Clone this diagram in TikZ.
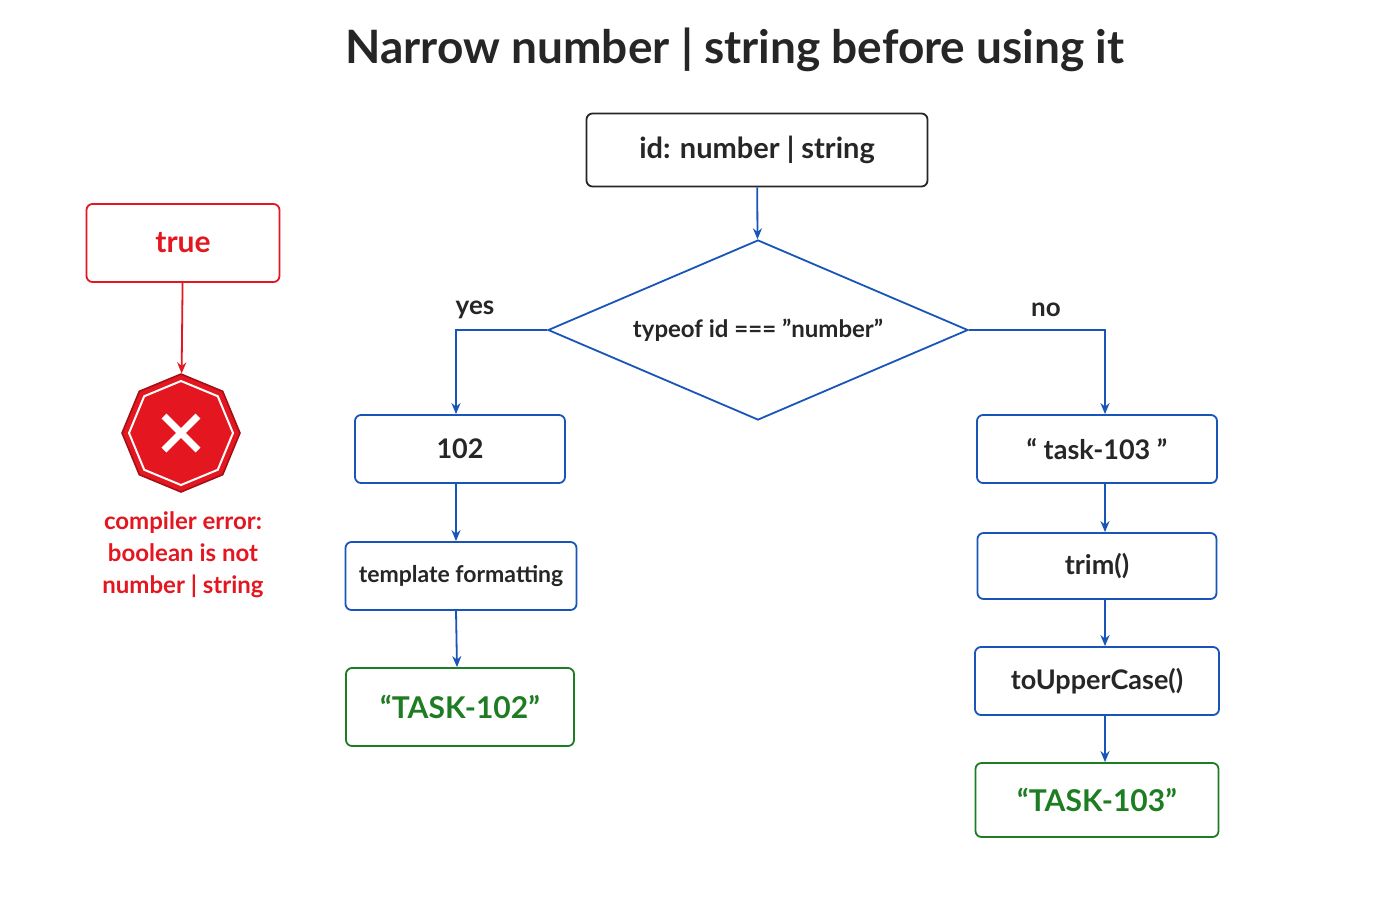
\documentclass[tikz,border=0pt]{standalone}
\usepackage{fontspec}
\setmainfont{Lato}
\usetikzlibrary{shapes.geometric,arrows.meta,positioning}
\definecolor{flowblue}{RGB}{25,85,185}
\definecolor{okgreen}{RGB}{30,125,35}
\definecolor{errred}{RGB}{228,22,32}
\tikzset{
  stage/.style={draw=flowblue,line width=1.8pt,rounded corners=6pt,align=center,
    font=\fontsize{27}{31}\selectfont\bfseries,text=black!85},
  result/.style={stage,draw=okgreen,text=okgreen,font=\fontsize{30}{34}\selectfont\bfseries},
  flow/.style={draw=flowblue,line width=1.8pt,-{Stealth[length=11pt,width=9pt]}},
}
\begin{document}
\begin{tikzpicture}[x=1pt,y=-1pt]
\path[fill=white] (0,0) rectangle (1400,900);

%title
\node[text=black!85] (title) at (735,50) {\fontsize{46}{52}\selectfont\bfseries Narrow number | string before using it};

%top of the flow
\node[stage,draw=black!85,minimum width=341pt,minimum height=73pt,font=\fontsize{29}{33}\selectfont\bfseries] (idtype) at (757,150) {id: number | string};
\node[diamond,draw=flowblue,line width=1.8pt,aspect=2.33,minimum width=420pt,minimum height=180pt,inner sep=0pt,
  text=black!85,font=\fontsize{24}{28}\selectfont\bfseries] (check) at (758,330) {typeof id === \symbol{34}number\symbol{34}};
\draw[flow] (idtype) -- (check);
\node[text=black!85,font=\fontsize{26}{30}\selectfont\bfseries] (yes) at (475,310) {yes};
\node[text=black!85,font=\fontsize{26}{30}\selectfont\bfseries] (no) at (1046,310) {no};

%number branch
\node[stage,minimum width=210pt,minimum height=68pt] (num) at (460,449) {102};
\node[stage,minimum width=231pt,minimum height=68pt,inner xsep=2pt,font=\fontsize{23}{27}\selectfont\bfseries] (tmpl) at (461,576) {template formatting};
\node[result,minimum width=228pt,minimum height=78pt] (outnum) at (460,707) {“TASK-102”};
\draw[flow] (check.west) -| ([xshift=-4pt]num.north);
\draw[flow] ([xshift=-4pt]num.south) -- ([xshift=-5pt]tmpl.north);
\draw[flow] ([xshift=-5pt]tmpl.south) -- ([xshift=-3pt]outnum.north);

%string branch
\node[stage,minimum width=240pt,minimum height=68pt] (str) at (1097,449) {“ task-103 ”};
\node[stage,minimum width=239pt,minimum height=66pt] (trim) at (1097,566) {trim()};
\node[stage,minimum width=244pt,minimum height=68pt] (upper) at (1097,681) {toUpperCase()};
\node[result,minimum width=243pt,minimum height=74pt] (outstr) at (1097,800) {“TASK-103”};
\draw[flow] (check.east) -| ([xshift=8pt]str.north);
\draw[flow] ([xshift=8pt]str.south) -- ([xshift=8pt]trim.north);
\draw[flow] ([xshift=8pt]trim.south) -- ([xshift=8pt]upper.north);
\draw[flow] ([xshift=8pt]upper.south) -- ([xshift=8pt]outstr.north);

%rejected value
\node[stage,draw=errred,text=errred,minimum width=193pt,minimum height=78pt,font=\fontsize{30}{34}\selectfont\bfseries] (bool) at (183,243) {true};
\node[regular polygon,regular polygon sides=8,shape border rotate=22.5,fill=errred,draw=errred!70!black,
  line width=1.5pt,minimum size=118pt] (stop) at (181,433) {};
\node[regular polygon,regular polygon sides=8,shape border rotate=22.5,draw=white,line width=2pt,
  minimum size=104pt] at (stop) {};
\draw[white,line width=7pt] ([shift={(-17,-17)}]stop.center) -- ([shift={(17,17)}]stop.center)
  ([shift={(-17,17)}]stop.center) -- ([shift={(17,-17)}]stop.center);
\draw[draw=errred,line width=1.8pt,-{Stealth[length=11pt,width=9pt]}] (bool) -- (stop);
\node[text=errred,align=center,font=\fontsize{24}{32}\selectfont\bfseries] (err) at (183,555)
  {compiler error:\\boolean is not\\number | string};
\end{tikzpicture}
\end{document}
